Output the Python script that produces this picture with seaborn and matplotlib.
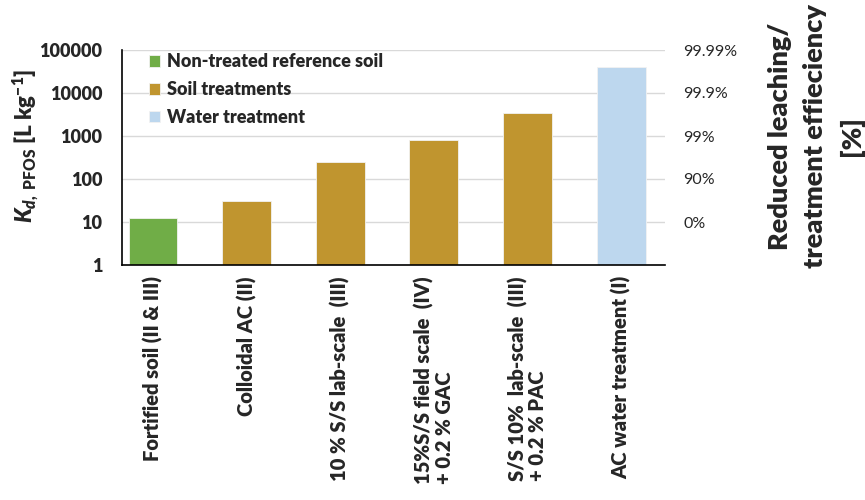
import matplotlib
matplotlib.use("Agg")
import matplotlib.pyplot as plt
import numpy as np
import pandas as pd
import seaborn as sns
from matplotlib.ticker import FixedLocator, NullLocator

labels = [
    "Fortified soil (II & III)",
    "Colloidal AC (II)",
    "10 % S/S lab-scale  (III)",
    "15%S/S field scale  (IV)\n+ 0.2 % GAC",
    "S/S 10%  lab-scale  (III)\n+ 0.2 % PAC",
    "AC water treatment (I)",
]
kd_values = [12.5, 30, 250, 800, 3400, 40000]
groups = ["Non-treated reference soil", "Soil treatments", "Soil treatments",
          "Soil treatments", "Soil treatments", "Water treatment"]
group_colors = {"Non-treated reference soil": "#70AD47",
                "Soil treatments": "#C0952F",
                "Water treatment": "#BDD7EE"}
left_ticks = [1, 10, 100, 1000, 10000, 100000]
right_ticks = [10, 100, 1000, 10000, 100000]
right_labels = ["0%", "90%", "99%", "99.9%", "99.99%"]

sns.set_style("white")
plt.rcParams["font.family"] = ["Lato", "DejaVu Sans"]
plt.rcParams["mathtext.fontset"] = "custom"
plt.rcParams["mathtext.rm"] = "Lato:heavy"
plt.rcParams["mathtext.it"] = "Lato:heavy:italic"

df = pd.DataFrame({"label": labels, "kd": kd_values, "group": groups})

fig = plt.figure(figsize=(8.65, 5), dpi=100)
ax = fig.add_axes([0.141, 0.47, 0.628, 0.43])
sns.barplot(data=df, x="label", y="kd", hue="group", palette=group_colors,
            dodge=False, width=0.52, ax=ax, saturation=1,
            edgecolor="#f2f2f2", linewidth=0.6)
ax.set_yscale("log")
ax.set_ylim(1, 100000)
ax.set_xlim(-0.33, 5.47)
ax.yaxis.set_major_locator(FixedLocator(left_ticks))
ax.yaxis.set_minor_locator(NullLocator())
ax.set_yticklabels([str(t) for t in left_ticks], fontsize=13, fontweight="heavy")
ax.yaxis.grid(True, color="#d9d9d9", linewidth=1)
ax.set_axisbelow(True)
for s in ["top", "right"]:
    ax.spines[s].set_visible(False)
for s in ["left", "bottom"]:
    ax.spines[s].set_color("black")
    ax.spines[s].set_linewidth(1.2)
ax.tick_params(axis="y", length=0, pad=14)
ax.tick_params(axis="x", length=0, pad=8)
ax.set_xticks(range(len(labels)))
ax.set_xticklabels(labels, rotation=90, fontsize=14.5, fontweight="heavy",
                   ha="center", va="top", multialignment="left",
                   linespacing=1.05)
ax.set_xlabel("")
ax.set_ylabel("")
fig.text(25 / 865, 1 - 146 / 500, r"$K_{d,\ \mathrm{PFOS}}$ [L kg$^{-1}$]",
         fontsize=16, fontweight="heavy", rotation=90, ha="center", va="center")

leg = ax.legend(loc="upper left", bbox_to_anchor=(0.02, 1.06), frameon=False,
                fontsize=13, handlelength=0.6, handleheight=0.6,
                handletextpad=0.4, labelspacing=0.6)
for t in leg.get_texts():
    t.set_fontweight("heavy")

ax2 = ax.twinx()
ax2.set_yscale("log")
ax2.set_ylim(1, 100000)
ax2.yaxis.set_major_locator(FixedLocator(right_ticks))
ax2.yaxis.set_minor_locator(NullLocator())
ax2.set_yticklabels(right_labels, fontsize=11.5)
ax2.tick_params(axis="y", length=0, pad=13)
for s in ax2.spines.values():
    s.set_visible(False)
fig.text(816 / 865, 1 - 136 / 500, "Reduced leaching/\ntreatment effieciency\n[%]",
         fontsize=19.5, fontweight="heavy", rotation=90, ha="center", va="center",
         multialignment="center", linespacing=1.55)

fig.savefig("out.png", dpi=100)
